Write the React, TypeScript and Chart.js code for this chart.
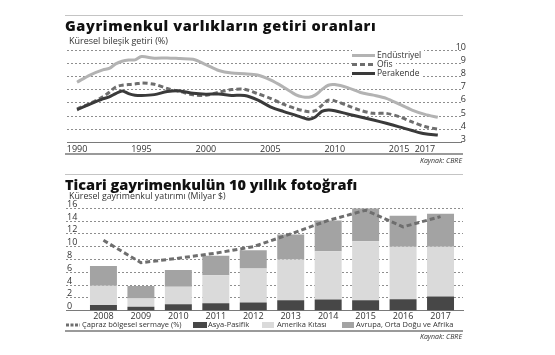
import React, { useEffect, useRef } from "react";
import { Chart, registerables } from "chart.js";

Chart.register(...registerables);

// ---- Top chart: Küresel bileşik getiri (%) ----
const lineYears = [1990, 1991, 1992, 1992.5, 1993, 1993.5, 1994, 1994.5, 1995, 1996, 1997, 1998, 1999, 2000, 2001, 2002, 2003, 2004, 2005, 2006, 2007, 2007.5, 2008, 2008.5, 2009, 2009.5, 2010, 2011, 2012, 2013, 2014, 2015, 2016, 2017, 2018];
const endustriyel = [7.56, 8.1, 8.49, 8.6, 8.95, 9.15, 9.24, 9.25, 9.5, 9.38, 9.4, 9.35, 9.3, 8.9, 8.45, 8.25, 8.2, 8.1, 7.73, 7.2, 6.6, 6.45, 6.42, 6.6, 7.0, 7.33, 7.38, 7.15, 6.78, 6.58, 6.34, 5.9, 5.45, 5.12, 4.9];
const ofis = [5.54, 5.95, 6.45, 6.8, 7.2, 7.33, 7.38, 7.42, 7.5, 7.4, 7.08, 6.85, 6.6, 6.57, 6.8, 7.0, 7.02, 6.7, 6.34, 5.9, 5.55, 5.42, 5.33, 5.4, 5.8, 6.2, 6.15, 5.78, 5.43, 5.2, 5.2, 4.95, 4.55, 4.2, 4.0];
const perakende = [5.47, 5.9, 6.3, 6.45, 6.7, 6.9, 6.7, 6.58, 6.55, 6.62, 6.85, 6.9, 6.72, 6.65, 6.67, 6.56, 6.55, 6.22, 5.7, 5.35, 5.05, 4.88, 4.75, 4.92, 5.35, 5.45, 5.4, 5.15, 4.93, 4.7, 4.45, 4.18, 3.9, 3.65, 3.56];
const lineTickYears = [1990, 1995, 2000, 2005, 2010, 2015, 2017];

// ---- Bottom chart: Küresel gayrimenkul yatırımı (Milyar $) ----
const barYears = [2008, 2009, 2010, 2011, 2012, 2013, 2014, 2015, 2016, 2017];
const asyaPasifik = [0.9, 0.6, 1.0, 1.15, 1.3, 1.65, 1.75, 1.65, 1.8, 2.2];
const amerikaKitasi = [3.0, 1.3, 2.75, 4.4, 5.3, 6.35, 7.55, 9.2, 8.2, 7.8];
const avrupaOrtaDoguAfrika = [3.1, 1.95, 2.6, 3.05, 2.85, 3.9, 4.8, 5.15, 4.85, 5.15];
const caprazBolgesel = [11.0, 7.5, 8.2, 9.0, 10.0, 12.0, 14.1, 15.7, 13.1, 14.7];

const FONT = '"Open Sans", "Noto Sans", sans-serif';
const tickFont = { family: FONT, size: 9 };
const GRID_COLOR = "#8e8e8e";

function TopChart() {
  const ref = useRef<HTMLCanvasElement>(null);
  useEffect(() => {
    const mk = (vals: number[], color: string, dash: number[]) => ({
      type: "line",
      data: lineYears.map((x, i) => ({ x, y: vals[i] })),
      borderColor: color,
      borderWidth: 3,
      borderDash: dash,
      pointRadius: 0,
      tension: 0.3,
      fill: false,
    });
    const chart = new Chart(ref.current as HTMLCanvasElement, {
      type: "bar",
      data: {
        datasets: [
          mk(perakende, "#3a3a3a", []),
          mk(ofis, "#6e6e6e", [5, 3]),
          mk(endustriyel, "#b3b3b3", []),
        ],
      },
      options: {
        animation: false,
        responsive: false,
        maintainAspectRatio: false,
        layout: { padding: { left: 67, right: 94, top: 50, bottom: 8.6 } },
        plugins: { legend: { display: false }, tooltip: { enabled: false } },
        scales: {
          x: {
            type: "linear",
            offset: false,
            min: 1989.22,
            max: 2019.8,
            afterBuildTicks: (s: any) => {
              s.ticks = lineTickYears.map((v) => ({ value: v }));
            },
            afterFit: (s: any) => {
              s.height = 14;
            },
            ticks: {
              callback: (v: any) => String(v),
              font: tickFont,
              color: "#333",
              padding: 2,
              maxRotation: 0,
              autoSkip: false,
            },
            grid: { display: false, drawTicks: false, tickLength: 0 },
            border: { display: true, color: "#7a7a7a", width: 1 },
          },
          y: {
            position: "left",
            min: 3,
            max: 10,
            afterFit: (s: any) => {
              s.width = 0;
            },
            ticks: { stepSize: 1, display: false, autoSkip: false },
            grid: { display: true, drawOnChartArea: true, color: GRID_COLOR, lineWidth: 1, drawTicks: false, tickLength: 0 },
            border: { display: false, dash: [2, 2] },
          },
          yRight: {
            type: "linear",
            position: "right",
            min: 3,
            max: 10,
            afterFit: (s: any) => {
              s.width = 0;
            },
            ticks: {
              stepSize: 1,
              mirror: true,
              padding: 5,
              labelOffset: -3,
              font: tickFont,
              color: "#333",
              autoSkip: false,
            },
            grid: { display: false, drawTicks: false, tickLength: 0 },
            border: { display: false },
          },
        },
      },
    } as any);
    return () => chart.destroy();
  }, []);
  return (
    <canvas
      ref={ref}
      width={555}
      height={165}
      style={{ position: "absolute", left: 0, top: 0, width: 555, height: 165 }}
    />
  );
}

function BottomChart() {
  const ref = useRef<HTMLCanvasElement>(null);
  useEffect(() => {
    const bar = (vals: number[], color: string) => ({
      type: "bar",
      data: barYears.map((x, i) => ({ x, y: vals[i] })),
      backgroundColor: color,
      borderWidth: 0,
      barPercentage: 0.72,
      categoryPercentage: 1,
      stack: "bars",
    });
    const chart = new Chart(ref.current as HTMLCanvasElement, {
      type: "bar",
      data: {
        datasets: [
          {
            type: "line",
            data: barYears.map((x, i) => ({ x, y: caprazBolgesel[i] })),
            borderColor: "#6e6e6e",
            borderWidth: 3,
            borderDash: [5, 3],
            pointRadius: 0,
            tension: 0,
            fill: false,
            stack: "line",
          },
          bar(asyaPasifik, "#474747"),
          bar(amerikaKitasi, "#dadada"),
          bar(avrupaOrtaDoguAfrika, "#a3a3a3"),
        ],
      },
      options: {
        animation: false,
        responsive: false,
        maintainAspectRatio: false,
        layout: { padding: { left: 66, right: 92, top: 43.3, bottom: 30.3 } },
        plugins: { legend: { display: false }, tooltip: { enabled: false } },
        scales: {
          x: {
            type: "linear",
            offset: false,
            stacked: true,
            min: 2007,
            max: 2017.6,
            afterBuildTicks: (s: any) => {
              s.ticks = barYears.map((v) => ({ value: v }));
            },
            afterFit: (s: any) => {
              s.height = 14;
            },
            ticks: {
              callback: (v: any) => String(v),
              font: tickFont,
              color: "#333",
              padding: 0,
              maxRotation: 0,
              autoSkip: false,
            },
            grid: { display: false, drawTicks: false, tickLength: 0, offset: false },
            border: { display: true, color: "#7a7a7a", width: 1 },
          },
          y: {
            position: "left",
            stacked: true,
            min: 0,
            max: 16,
            afterFit: (s: any) => {
              s.width = 0;
            },
            ticks: {
              stepSize: 2,
              mirror: true,
              padding: 1,
              labelOffset: -4,
              font: tickFont,
              color: "#333",
              autoSkip: false,
            },
            grid: { display: true, drawOnChartArea: true, color: GRID_COLOR, lineWidth: 1, drawTicks: false, tickLength: 0 },
            border: { display: false, dash: [2, 2] },
          },
        },
      },
    } as any);
    return () => chart.destroy();
  }, []);
  return (
    <canvas
      ref={ref}
      width={555}
      height={190}
      style={{ position: "absolute", left: 0, top: 165, width: 555, height: 190 }}
    />
  );
}

const abs = (s: React.CSSProperties): React.CSSProperties => ({ position: "absolute", whiteSpace: "nowrap", ...s });

function LineSample({ color, dash }: { color: string; dash?: string }) {
  return (
    <svg width={23} height={5} style={{ display: "block" }}>
      <line x1={0} y1={2.5} x2={23} y2={2.5} stroke={color} strokeWidth={3} strokeDasharray={dash} />
    </svg>
  );
}

export default function App() {
  const topLegend = [
    { label: "Endüstriyel", color: "#b3b3b3", dash: undefined, y: 55 },
    { label: "Ofis", color: "#6e6e6e", dash: "5 3", y: 64 },
    { label: "Perakende", color: "#3a3a3a", dash: undefined, y: 73 },
  ];
  const legendItem: React.CSSProperties = { top: 320, height: 9, display: "flex", alignItems: "center", fontSize: 7.5, lineHeight: "9px", color: "#333" };
  return (
    <div
      style={{
        position: "fixed",
        left: 0,
        top: 0,
        width: 555,
        height: 355,
        background: "#fff",
        overflow: "hidden",
        fontFamily: FONT,
        color: "#222",
      }}
    >
      <TopChart />
      <BottomChart />

      {/* top section texts */}
      <div style={abs({ left: 65, top: 15, width: 398, height: 1, background: "#c4c4c4" })} />
      <div style={abs({ left: 65, top: 17, fontSize: 14.5, fontWeight: 800, lineHeight: "18px", letterSpacing: 0.6, color: "#111" })}>
        Gayrimenkul varlıkların getiri oranları
      </div>
      <div style={abs({ left: 69, top: 35, fontSize: 9, lineHeight: "11px", color: "#333" })}>
        Küresel bileşik getiri (%)
      </div>
      {topLegend.map((l) => (
        <div key={l.label} style={abs({ left: 352, top: l.y - 5, height: 10, display: "flex", alignItems: "center", background: "#fff", paddingRight: 3 })}>
          <LineSample color={l.color} dash={l.dash} />
          <span style={{ marginLeft: 2, fontSize: 8.5, lineHeight: "10px", color: "#333" }}>{l.label}</span>
        </div>
      ))}
      <div style={abs({ left: 65, top: 153, width: 398, height: 2, background: "#9a9a9a" })} />
      <div style={abs({ left: 380, width: 82, top: 156, textAlign: "right", fontSize: 7, fontStyle: "italic", lineHeight: "9px", color: "#333" })}>
        Kaynak: CBRE
      </div>

      {/* bottom section texts */}
      <div style={abs({ left: 65, top: 174, width: 398, height: 1, background: "#c4c4c4" })} />
      <div style={abs({ left: 65, top: 176, fontSize: 14.5, fontWeight: 800, lineHeight: "18px", color: "#111" })}>
        Ticari gayrimenkulün 10 yıllık fotoğrafı
      </div>
      <div style={abs({ left: 69, top: 191, fontSize: 8.8, lineHeight: "11px", color: "#333" })}>
        Küresel gayrimenkul yatırımı (Milyar $)
      </div>
      <div style={abs({ left: 66, ...legendItem })}>
        <svg width={14} height={4} style={{ display: "block" }}>
          <line x1={0} y1={2} x2={14} y2={2} stroke="#6e6e6e" strokeWidth={3} strokeDasharray="3 1.5" />
        </svg>
        <span style={{ marginLeft: 2 }}>Çapraz bölgesel sermaye (%)</span>
      </div>
      <div style={abs({ left: 193, ...legendItem })}>
        <div style={{ width: 14, height: 6, background: "#474747" }} />
        <span style={{ marginLeft: 1 }}>Asya-Pasifik</span>
      </div>
      <div style={abs({ left: 262, ...legendItem })}>
        <div style={{ width: 12, height: 6, background: "#dadada" }} />
        <span style={{ marginLeft: 3 }}>Amerika Kıtası</span>
      </div>
      <div style={abs({ left: 342, ...legendItem })}>
        <div style={{ width: 12, height: 6, background: "#a3a3a3" }} />
        <span style={{ marginLeft: 2 }}>Avrupa, Orta Doğu ve Afrika</span>
      </div>
      <div style={abs({ left: 65, top: 330, width: 398, height: 2, background: "#9a9a9a" })} />
      <div style={abs({ left: 380, width: 82, top: 332, textAlign: "right", fontSize: 7, fontStyle: "italic", lineHeight: "9px", color: "#333" })}>
        Kaynak: CBRE
      </div>
    </div>
  );
}
